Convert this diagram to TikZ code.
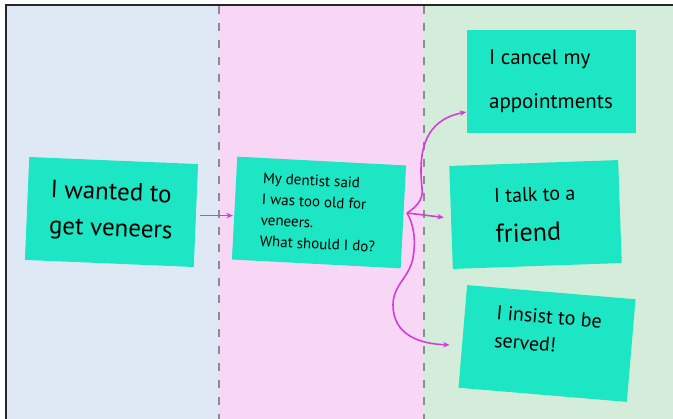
\documentclass[tikz,border=0pt]{standalone}
\usepackage{fontspec}
\setmainfont{PT Sans}
\usetikzlibrary{arrows.meta}
\definecolor{bgblue}{RGB}{223,233,246}
\definecolor{bgpink}{RGB}{248,214,246}
\definecolor{bggreen}{RGB}{212,237,218}
\definecolor{notec}{RGB}{29,230,196}
\definecolor{arrowc}{RGB}{210,62,214}
\definecolor{dashc}{RGB}{140,140,140}
\begin{document}
\begin{tikzpicture}[x=1pt,y=-1pt,
  sticky/.style={fill=notec, minimum width=169pt, minimum height=103pt, inner sep=0pt, align=left, text=black},
  conn/.style={draw=arrowc, line width=1.6pt, -{Stealth[length=6.5pt,width=5.5pt]}},
  divider/.style={draw=dashc, line width=1.4pt, dash pattern=on 8pt off 9pt}]
\useasboundingbox (0,0) rectangle (673,419);
\clip (0,0) rectangle (673,419);
\fill[white] (0,0) rectangle (673,419);
\fill[bgblue] (6,5) rectangle (219,430);
\fill[bgpink] (219,5) rectangle (424,430);
\fill[bggreen] (424,5) rectangle (690,430);
\draw[line width=2pt, black!85] (6,5) rectangle (690,440);
\draw[divider] (219,6) -- (219,419);
\draw[divider] (424,6) -- (424,419);

\node[sticky, rotate=-2.4, font=\fontsize{25}{36}\selectfont] (n1) at (111.5,212) {I wanted to\\get veneers};
\node[sticky, rotate=-3, font=\fontsize{15}{21}\selectfont] (n2) at (319,212.5) {My dentist said\\I was too old for\\veneers.\\What should I do?};
\node[sticky, font=\fontsize{21}{44}\selectfont] (n3) at (551,81.5) {I cancel my\\appointments};
\node[sticky, rotate=2, font=\fontsize{20}{40}\selectfont] (n4) at (535.5,214.5) {I talk to a\\{\fontsize{26}{40}\selectfont friend}};
\node[sticky, rotate=-4.8, font=\fontsize{20}{28}\selectfont] (n5) at (547,343.5) {I insist to be\\served!\\[-2pt]\mbox{}};

\coordinate (b) at (407,213);
\draw[conn] ([xshift=4pt]n1.east) -- ([xshift=-1.5pt]n1.east -| n2.west);
\draw[conn] (b) .. controls (415,208) and (424,200) .. (422,188)
  .. controls (418,150) and (425,120) .. ([yshift=-30.5pt]n3.west);
\draw[conn] (b) -- ([xshift=-7pt]n4.west);
\draw[conn] (b) .. controls (414,225) and (416,240) .. (413,258)
  .. controls (409,278) and (393,285) .. (393,305)
  .. controls (393,335) and (420,344) .. ([shift={(-13,8.5)}]n5.west);
\end{tikzpicture}
\end{document}
